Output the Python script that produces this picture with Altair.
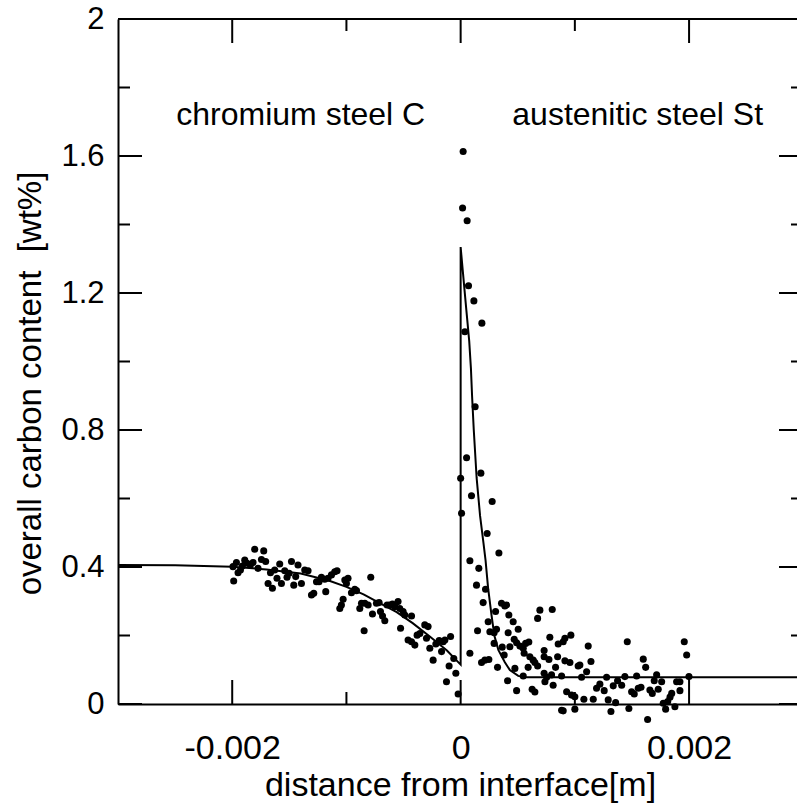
import altair as alt
import pandas as pd

FONT = "Liberation Sans"

# measured points, chromium steel side (x in mm from interface, y in wt%)
chrom_x = [-1.993, -1.987, -1.963, -1.949, -1.928, -1.911, -1.890, -1.870, -1.841, -1.818,
           -1.803, -1.774, -1.744, -1.724, -1.707, -1.686, -1.665, -1.648, -1.628, -1.608,
           -1.584, -1.569, -1.540, -1.520, -1.502, -1.481, -1.461, -1.444, -1.424, -1.394,
           -1.365, -1.336, -1.306, -1.286, -1.262, -1.240, -1.219, -1.190, -1.181, -1.161,
           -1.131, -1.102, -1.082, -1.014, -1.000, -0.986, -0.956, -0.927, -0.912, -1.029,
           -1.044, -1.058, -0.883, -0.868, -0.839, -0.810, -0.787, -0.772, -0.737, -0.714,
           -0.702, -0.684, -0.664, -0.644, -0.620, -0.597, -0.576, -0.548, -0.533, -0.504,
           -0.489, -0.430, -0.845, -0.526, -0.460, -0.430, -0.401, -0.381, -0.357, -0.314,
           -0.285, -0.299, -0.270, -0.241, -0.217, -0.188, -0.167, -0.153, -0.138, -0.088,
           -0.060, -0.101, -0.042, -0.124, -0.022]
chrom_y = [0.401, 0.359, 0.413, 0.383, 0.391, 0.403, 0.420, 0.411, 0.406, 0.413,
           0.452, 0.396, 0.422, 0.447, 0.416, 0.352, 0.383, 0.338, 0.391, 0.367,
           0.409, 0.352, 0.389, 0.370, 0.382, 0.416, 0.347, 0.372, 0.406, 0.352,
           0.391, 0.389, 0.318, 0.323, 0.357, 0.357, 0.370, 0.364, 0.328, 0.367,
           0.377, 0.386, 0.389, 0.362, 0.352, 0.367, 0.325, 0.335, 0.331, 0.306,
           0.289, 0.279, 0.279, 0.294, 0.294, 0.289, 0.370, 0.263, 0.294, 0.296,
           0.270, 0.257, 0.243, 0.289, 0.289, 0.292, 0.284, 0.299, 0.279, 0.270,
           0.260, 0.257, 0.214, 0.221, 0.187, 0.182, 0.172, 0.201, 0.206, 0.231,
           0.226, 0.192, 0.163, 0.128, 0.175, 0.185, 0.153, 0.182, 0.187, 0.197,
           0.133, 0.111, 0.090, 0.065, 0.029]

# measured points, austenitic steel side
aust_x = [0.022, 0.017, 0.057, 0.069, 0.116, 0.186, 0.037, 0.127, 0.052, 0.000,
          0.177, 0.095, 0.276, 0.008, 0.232, 0.335, 0.081, 0.159, 0.139, 0.218,
          0.197, 0.358, 0.387, 0.402, 0.306, 0.241, 0.148, 0.256, 0.293, 0.314,
          0.422, 0.460, 0.504, 0.416, 0.694, 0.674, 0.802, 0.081, 0.183, 0.212,
          0.247, 0.323, 0.293, 0.364, 0.381, 0.431, 0.469, 0.490, 0.519, 0.548,
          0.569, 0.597, 0.475, 0.556, 0.606, 0.635, 0.650, 0.674, 0.591, 0.548,
          0.411, 0.490, 0.626, 0.650, 0.731, 0.731, 0.773, 0.781, 0.854, 0.898,
          0.913, 0.965, 0.849, 0.831, 0.913, 0.957, 0.731, 0.753, 0.796, 0.884,
          0.738, 0.810, 0.928, 0.971, 0.884, 0.898, 1.117, 1.029, 1.044, 1.141,
          1.103, 1.059, 1.459, 1.599, 1.620, 1.278, 1.438, 1.541, 1.716, 1.695,
          1.760, 1.190, 1.219, 1.257, 1.336, 1.374, 1.410, 1.497, 1.520, 1.555,
          1.579, 1.657, 1.678, 1.730, 1.891, 1.920, 1.920, 1.848, 1.833, 1.813,
          1.774, 1.795, 1.876, 1.079, 1.161, 1.292, 1.357, 1.316, 1.473, 1.637,
          1.000, 1.000, 1.958, 1.979, 1.999]
aust_y = [1.613, 1.448, 1.411, 1.221, 1.177, 1.112, 1.087, 0.868, 0.719, 0.659,
          0.674, 0.608, 0.591, 0.557, 0.498, 0.441, 0.418, 0.396, 0.347, 0.335,
          0.296, 0.294, 0.286, 0.289, 0.270, 0.240, 0.214, 0.211, 0.208, 0.218,
          0.260, 0.240, 0.218, 0.208, 0.274, 0.250, 0.276, 0.148, 0.121, 0.128,
          0.130, 0.107, 0.177, 0.166, 0.143, 0.167, 0.189, 0.179, 0.169, 0.163,
          0.177, 0.181, 0.104, 0.148, 0.138, 0.128, 0.121, 0.111, 0.107, 0.082,
          0.068, 0.039, 0.043, 0.035, 0.156, 0.138, 0.130, 0.195, 0.175, 0.182,
          0.192, 0.201, 0.138, 0.107, 0.126, 0.121, 0.090, 0.078, 0.085, 0.082,
          0.065, 0.055, 0.036, 0.026, -0.018, -0.020, 0.169, 0.111, 0.114, 0.124,
          0.094, 0.078, 0.182, 0.131, 0.107, 0.078, 0.080, 0.082, 0.085, 0.068,
          0.065, 0.046, 0.058, 0.039, 0.053, 0.068, 0.055, 0.036, 0.029, 0.046,
          0.049, 0.041, 0.031, 0.043, 0.065, 0.065, 0.039, 0.031, 0.020, 0.007,
          0.002, -0.015, -0.008, 0.014, 0.014, 0.012, 0.004, -0.022, -0.013, -0.045,
          0.021, -0.015, 0.182, 0.143, 0.080]

# model curve (one continuous path)
model_x = [-3.0, -2.5, -2.0, -1.7, -1.4, -1.15, -1.0, -0.85, -0.7, -0.56, -0.42, -0.27, -0.12, 0.0,
           0.0, 0.02, 0.05, 0.075, 0.09, 0.10, 0.115, 0.14, 0.17, 0.20, 0.218, 0.24,
           0.27, 0.295, 0.33, 0.387, 0.431, 0.504, 0.56, 3.0]
model_y = [0.406, 0.405, 0.401, 0.393, 0.381, 0.360, 0.342, 0.320, 0.293, 0.268, 0.236, 0.197, 0.156, 0.115,
           1.334, 1.26, 1.15, 1.06, 0.98, 0.90, 0.80, 0.66, 0.55, 0.47, 0.42, 0.34,
           0.26, 0.20, 0.158, 0.122, 0.099, 0.082, 0.078, 0.078]

# axis ticks
major_x = [-2, 0, 2]
minor_x = [-1, 1]
major_y = [0, 0.4, 0.8, 1.2, 1.6, 2.0]
minor_y = [0.2, 0.6, 1.0, 1.4, 1.8]

labels = ["chromium steel C", "austenitic steel St"]
label_x = [-1.40, 1.55]
label_y = [1.69, 1.69]

W, H = 679, 685
MAJ, MIN = 24, 12

xscale = alt.Scale(domain=[-3.0, 2.945], nice=False, zero=False)
yscale = alt.Scale(domain=[0, 2], nice=False, zero=False)

pts = pd.DataFrame({"x": chrom_x + aust_x, "y": chrom_y + aust_y})
model = pd.DataFrame({"x": model_x, "y": model_y, "i": list(range(len(model_x)))})

xaxis = alt.Axis(values=major_x,
                 labelExpr="datum.value == 0 ? '0' : toString(datum.value/1000)",
                 ticks=False, grid=False, domain=True, domainColor="black", domainWidth=2,
                 labelFont=FONT, labelFontSize=34, labelColor="black", labelPadding=27,
                 labelFlush=False, labelOverlap=False,
                 title="distance from interface[m]", titleFont=FONT, titleFontSize=34,
                 titleFontWeight="normal", titleColor="black", titleX=342, titleY=81,
                 titleBaseline="middle", titleAlign="center")
yaxis = alt.Axis(values=major_y, labelExpr="toString(datum.value)",
                 ticks=False, grid=False, domain=True, domainColor="black", domainWidth=2,
                 labelFont=FONT, labelFontSize=31, labelColor="black", labelPadding=14,
                 labelFlush=False, labelOverlap=False,
                 title="overall carbon content\u00a0 [wt%]", titleFont=FONT, titleFontSize=33,
                 titleFontWeight="normal", titleColor="black", titleAngle=270,
                 titleX=-88, titleY=364, titleBaseline="middle", titleAlign="center")

line = alt.Chart(model).mark_line(color="black", strokeWidth=2, clip=True).encode(
    x=alt.X("x:Q", scale=xscale, axis=xaxis),
    y=alt.Y("y:Q", scale=yscale, axis=yaxis),
    order=alt.Order("i:Q"),
)

dots = alt.Chart(pts).mark_circle(color="black", size=50, opacity=1).encode(
    x=alt.X("x:Q", scale=xscale),
    y=alt.Y("y:Q", scale=yscale),
)

txt = alt.Chart(pd.DataFrame({"x": label_x, "y": label_y, "t": labels})).mark_text(
    font=FONT, fontSize=32, color="black", align="center", baseline="alphabetic"
).encode(x=alt.X("x:Q", scale=xscale), y=alt.Y("y:Q", scale=yscale), text="t:N")


def xticks(vals, length, top):
    enc = dict(x=alt.X("x:Q", scale=xscale))
    if top:
        enc.update(y=alt.value(0), y2=alt.value(length))
    else:
        enc.update(y=alt.value(H), y2=alt.value(H - length))
    return alt.Chart(pd.DataFrame({"x": vals})).mark_rule(color="black", strokeWidth=2).encode(**enc)


def yticks(vals, length, right):
    enc = dict(y=alt.Y("y:Q", scale=yscale))
    if right:
        enc.update(x=alt.value(685), x2=alt.value(685 - length))
    else:
        enc.update(x=alt.value(0), x2=alt.value(length))
    return alt.Chart(pd.DataFrame({"y": vals})).mark_rule(color="black", strokeWidth=2).encode(**enc)


top_border = alt.Chart(pd.DataFrame({"y": [2.0]})).mark_rule(color="black", strokeWidth=2).encode(
    y=alt.Y("y:Q", scale=yscale), x=alt.value(0), x2=alt.value(W)
)

chart = alt.layer(
    line, dots, txt, top_border,
    xticks(major_x, MAJ, False), xticks(minor_x, MIN, False),
    xticks(major_x, MAJ, True), xticks(minor_x, MIN, True),
    yticks(major_y, MAJ, False), yticks(minor_y, MIN, False),
    yticks(major_y, MAJ, True), yticks(minor_y, MIN, True),
).properties(
    width=W, height=H,
    autosize=alt.AutoSizeParams(type="none"),
    padding={"left": 118, "top": 19, "right": 0, "bottom": 101},
).configure_view(stroke=None)

chart.save("out.html", embed_options={"renderer": "svg", "actions": False})
